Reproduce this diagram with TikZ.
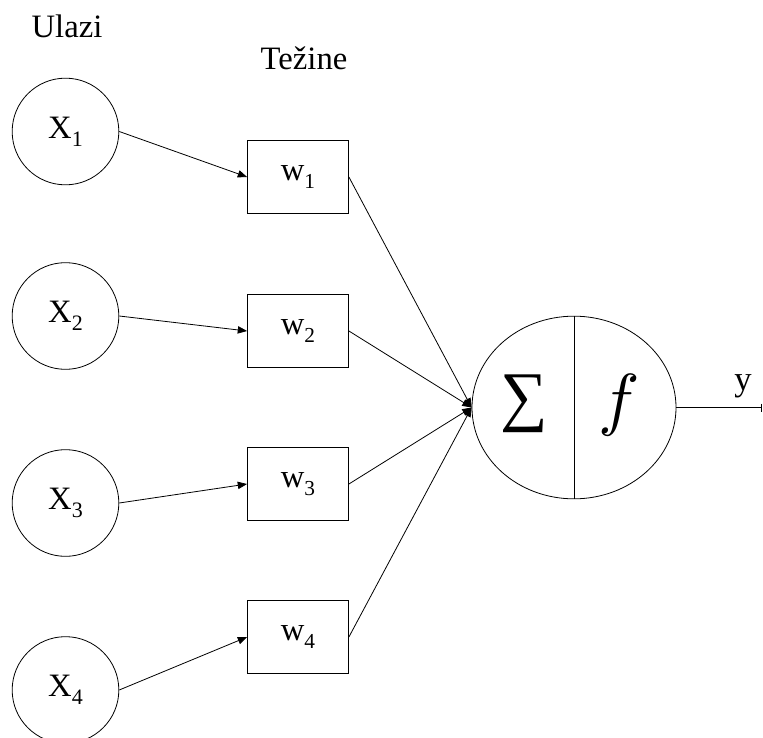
\documentclass[tikz,border=0pt]{standalone}
\usepackage{fontspec}
\setmainfont{Liberation Serif}
\usetikzlibrary{shapes.geometric,arrows.meta}

\newcommand{\xlab}[1]{X\raisebox{-6pt}{\fontsize{16.5}{18}\selectfont #1}}
\newcommand{\wlab}[1]{w\raisebox{-6.5pt}{\fontsize{16}{18}\selectfont #1}}

\begin{document}
\begin{tikzpicture}[
    x = 0.75pt, y = -0.75pt,
    line width = 0.6pt,
    inp/.style = {
      draw, circle,
      minimum size = 80pt,
      inner sep = 0pt,
      font = \fontsize{24.5}{28}\selectfont
    },
    wbox/.style = {
      draw, rectangle,
      minimum width = 75.75pt,
      minimum height = 54.75pt,
      inner sep = 0pt,
      font = \fontsize{24.5}{28}\selectfont
    },
    title/.style = {
      anchor = base,
      font = \fontsize{24.5}{28}\selectfont
    },
    conn/.style = {
      -{Triangle[length = 7pt, width = 5.5pt]}
    }
  ]
  \useasboundingbox (0,0) rectangle (763,738);
  \clip (0,0) rectangle (763,738);

  % The inputs and the weights
  \node[inp]  (x1) at (65.5,131.5) {\xlab{1}};
  \node[inp]  (x2) at (65.5,316)   {\xlab{2}};
  \node[inp]  (x3) at (65.5,503)   {\xlab{3}};
  \node[inp]  (x4) at (65.5,690)   {\xlab{4}};

  \node[wbox] (w1) at (298,177) {\wlab{1}};
  \node[wbox] (w2) at (298,331) {\wlab{2}};
  \node[wbox] (w3) at (298,484) {\wlab{3}};
  \node[wbox] (w4) at (298,637) {\wlab{4}};

  % The neuron
  \node[draw, ellipse, minimum width = 153pt, minimum height = 137pt,
        inner sep = 0pt] (neuron) at (574,407.5) {};
  \draw (neuron.north) -- (neuron.south);
  \node[font = \fontsize{50}{56}\selectfont] (sum) at (524,404) {∑};
  \node[inner sep = 0pt] (fun) at (619,405) {\scalebox{5.2}{$f$}};

  % The two labels
  \node[title] (ulazi)  at (67,38)  {Ulazi};
  \node[title] (tezine) at (304,70) {Težine};

  % Connections
  \foreach \i in {1,...,4} {
    \draw[conn] (x\i.east) -- (w\i.west);
    \draw[conn] (w\i.east) -- (neuron.west);
  }

  % Output
  \coordinate (yend) at (762,407.5);
  \draw[-{Bar[width = 6pt]}] (neuron.east) -- (yend);
  \node[anchor = base, font = \fontsize{26}{30}\selectfont] (ylab) at (743,390) {y};
\end{tikzpicture}
\end{document}
